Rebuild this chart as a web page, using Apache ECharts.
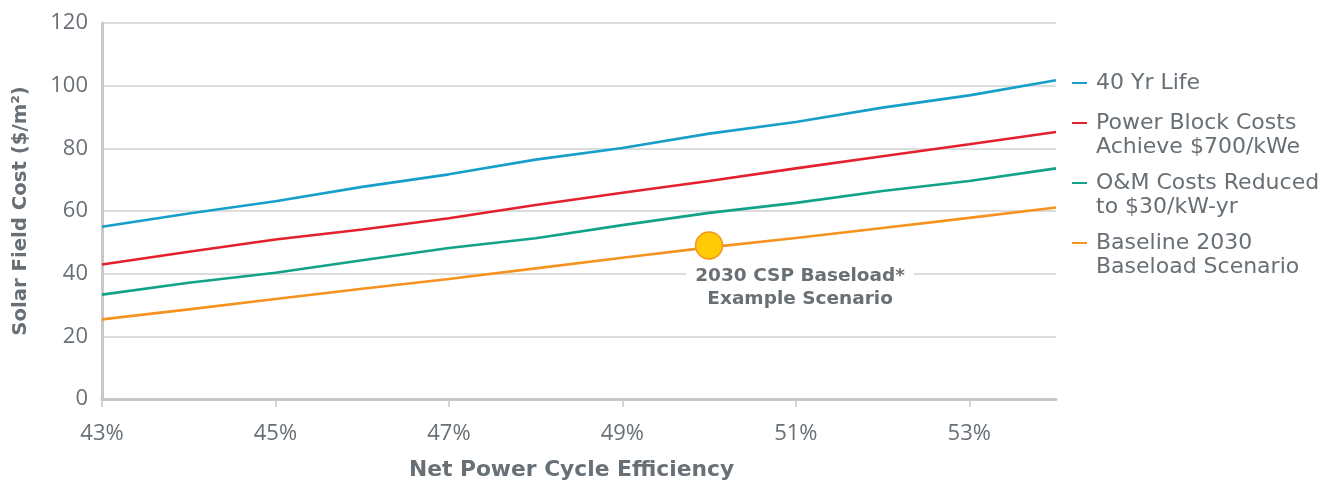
<!DOCTYPE html>
<html>
<head>
<meta charset="utf-8">
<script src="https://cdn.jsdelivr.net/npm/echarts@6/dist/echarts.min.js"></script>
<style>html,body{margin:0;padding:0;background:#fff;}#c{width:1320px;height:480px;}</style>
</head>
<body>
<div id="c"></div>
<script>
const categories = ['43%','44%','45%','46%','47%','48%','49%','50%','51%','52%','53%','54%'];
const yTicks = [0, 20, 40, 60, 80, 100, 120];
const life40 = [55.0, 59.2, 63.1, 67.7, 71.7, 76.4, 80.1, 84.7, 88.4, 93.0, 96.9, 101.7];
const powerBlock = [42.9, 47.0, 50.9, 54.1, 57.7, 61.9, 65.8, 69.6, 73.6, 77.5, 81.3, 85.2];
const omReduced = [33.3, 37.1, 40.3, 44.3, 48.2, 51.3, 55.5, 59.4, 62.6, 66.4, 69.6, 73.6];
const baseline = [25.4, 28.6, 31.9, 35.2, 38.3, 41.7, 45.1, 48.4, 51.4, 54.6, 57.8, 61.1];
const scenarioPoint = [['50%', 49]];
const seriesNames = ['40 Yr Life', 'Power Block Costs\nAchieve $700/kWe', 'O&M Costs Reduced\nto $30/kW-yr', 'Baseline 2030\nBaseload Scenario'];
const scenarioLabel = '2030 CSP Baseload*\nExample Scenario';

const colors = ['#169fc9', '#e4202e', '#10a387', '#f6921e'];
const textGrey = '#686f75';
const TICK_FONT = '"Open Sans", Lato, sans-serif';
const WIDE_FONT = '"DejaVu Sans", "Open Sans", sans-serif';
const iconOne = 'path://M0,0M19,32M0,15H15V17H0Z';
const iconTwo = 'path://M0,0M19,48M0,11H15V13H0Z';

const chart = echarts.init(document.getElementById('c'));
const mkLine = (name, data, color) => ({
  name: name, type: 'line', data: data, symbol: 'none', smooth: false,
  lineStyle: { color: color, width: 2.6 }, itemStyle: { color: color }, z: 3
});
chart.setOption({
  animation: false,
  backgroundColor: '#ffffff',
  grid: { left: 102, right: 264, top: 23, bottom: 81, containLabel: false, outerBoundsMode: 'none' },
  legend: {
    orient: 'vertical', left: 1072, top: 67, padding: 0,
    itemWidth: 19, itemHeight: 48, itemGap: 12,
    itemStyle: { borderWidth: 0 },
    selectedMode: false,
    textStyle: { fontFamily: WIDE_FONT, fontSize: 22, color: textGrey, lineHeight: 24 },
    data: [
      { name: seriesNames[0], icon: iconOne },
      { name: seriesNames[1], icon: iconTwo },
      { name: seriesNames[2], icon: iconTwo },
      { name: seriesNames[3], icon: iconTwo }
    ]
  },
  xAxis: {
    type: 'category', data: categories, boundaryGap: false,
    name: 'Net Power Cycle Efficiency', nameLocation: 'middle', nameGap: 60,
    nameTextStyle: { fontFamily: WIDE_FONT, fontWeight: 'bold', fontSize: 21.8, color: textGrey, padding: [0, 15, 0, 0] },
    axisLine: { lineStyle: { color: '#c8c8c8', width: 3 } },
    axisTick: { interval: 1, length: 8, lineStyle: { color: '#c8c8c8', width: 1.5 } },
    axisLabel: { interval: 1, margin: 24, fontFamily: TICK_FONT, fontSize: 22, color: textGrey },
    splitLine: { show: false }
  },
  yAxis: {
    type: 'value', min: yTicks[0], max: yTicks[yTicks.length - 1], interval: 20,
    name: 'Solar Field Cost ($/m²)', nameLocation: 'middle', nameGap: 71,
    nameTextStyle: { fontFamily: WIDE_FONT, fontWeight: 'bold', fontSize: 19.7, color: textGrey },
    axisLine: { show: true, lineStyle: { color: '#c8c8c8', width: 3 } },
    axisTick: { show: false },
    axisLabel: { margin: 14, fontFamily: TICK_FONT, fontSize: 22, color: textGrey },
    splitLine: { lineStyle: { color: '#dddddd', width: 2 } }
  },
  series: [
    mkLine(seriesNames[0], life40, colors[0]),
    mkLine(seriesNames[1], powerBlock, colors[1]),
    mkLine(seriesNames[2], omReduced, colors[2]),
    mkLine(seriesNames[3], baseline, colors[3]),
    {
      name: 'scenario', type: 'scatter', data: scenarioPoint, symbolSize: 27, z: 5,
      itemStyle: { color: '#ffcb05', borderColor: '#f6921e', borderWidth: 1.5, opacity: 1 },
      label: {
        show: true, position: 'bottom', distance: 5, offset: [91, 0], formatter: scenarioLabel,
        fontFamily: WIDE_FONT, fontWeight: 'bold', fontSize: 18.5, lineHeight: 23,
        color: textGrey, backgroundColor: '#ffffff', padding: [0, 9, 0, 9], align: 'center'
      }
    }
  ]
});
</script>
</body>
</html>
